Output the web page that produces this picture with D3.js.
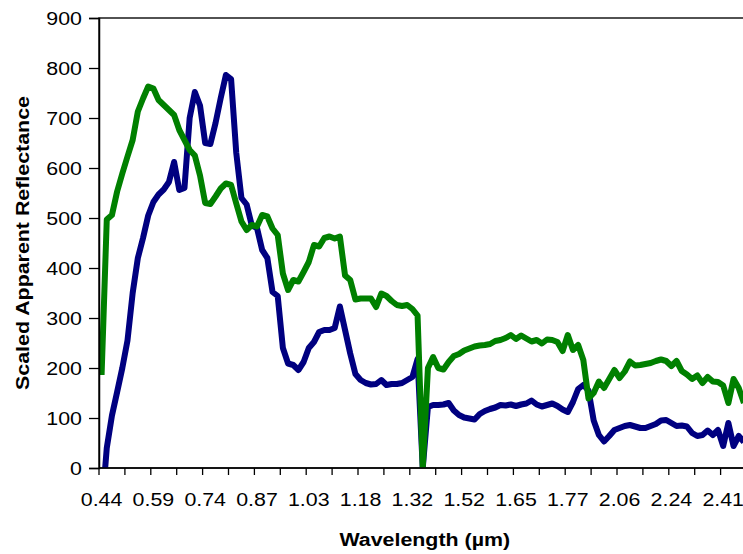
<!DOCTYPE html>
<html>
<head>
<meta charset="utf-8">
<script src="https://cdn.jsdelivr.net/npm/d3@7"></script>
<style>
  html, body { margin: 0; padding: 0; background: #fff; }
  svg { display: block; }
  text { font-family: "Liberation Sans", Arial, sans-serif; fill: #000; }
</style>
</head>
<body>
<svg id="chart" width="743" height="554"></svg>
<script>
// ---- Data ----
const categories = [
  "0.44","0.45","0.47","0.48","0.50","0.51","0.53","0.54","0.56","0.57",
  "0.59","0.60","0.62","0.63","0.65","0.66","0.68","0.69","0.71","0.72",
  "0.74","0.75","0.76","0.78","0.79","0.80","0.82","0.83","0.84","0.86",
  "0.87","0.89","0.90","0.92","0.93","0.95","0.97","0.98","1.00","1.01",
  "1.03","1.04","1.06","1.07","1.09","1.10","1.12","1.13","1.15","1.16",
  "1.18","1.19","1.21","1.22","1.24","1.25","1.26","1.28","1.29","1.31",
  "1.32","1.34","1.36","1.38","1.40","1.42","1.44","1.46","1.48","1.50",
  "1.52","1.53","1.55","1.56","1.57","1.59","1.60","1.61","1.63","1.64",
  "1.65","1.66","1.68","1.69","1.70","1.71","1.72","1.74","1.75","1.76",
  "1.77","1.80","1.83","1.86","1.89","1.92","1.94","1.97","2.00","2.03",
  "2.06","2.08","2.10","2.11","2.13","2.15","2.17","2.19","2.20","2.22",
  "2.24","2.26","2.28","2.29","2.31","2.33","2.34","2.36","2.38","2.39",
  "2.41","2.43","2.44","2.46","2.48"
];

const blueValues = [
  -90, 40, 105, 152, 200, 255, 350, 420, 460, 505,
  532, 547, 557, 572, 612, 556, 560, 700, 752, 725,
  650, 648, 690, 740, 786, 778, 630, 540, 527, 485,
  480, 436, 420, 352, 344, 240, 209, 206, 196, 212,
  240, 252, 272, 276, 276, 280, 323, 276, 229, 188,
  176, 170, 167, 168, 176, 166, 168, 168, 170, 176,
  182, 218, 0, 122, 126, 126, 127, 130, 115, 106,
  101, 99, 97, 108, 114, 118, 121, 126, 125, 127,
  124, 127, 129, 135, 127, 123, 126, 129, 124, 117,
  112, 132, 158, 166, 155, 95, 66, 53, 64, 76,
  80, 84, 86, 83, 80, 80, 84, 88, 95, 96,
  90, 84, 85, 83, 70, 64, 66, 75, 66, 76,
  44, 90, 44, 64, 52
];

const greenValues = [
  186, 497, 506, 553, 589, 623, 656, 713, 739, 763,
  759, 736, 726, 716, 706, 676, 656, 636, 625, 585,
  530, 528, 543, 559, 569, 566, 529, 493, 476, 486,
  483, 506, 503, 479, 466, 389, 356, 376, 373, 392,
  412, 446, 443, 460, 463, 459, 463, 385, 376, 337,
  339, 339, 339, 322, 349, 344, 334, 326, 324, 326,
  318, 305, 0, 200, 222, 200, 197, 212, 224, 228,
  235, 239, 243, 245, 246, 248, 254, 256, 260, 266,
  258, 265, 259, 253, 256, 249, 257, 256, 252, 234,
  266, 236, 246, 216, 139, 150, 173, 160, 178, 196,
  180, 193, 213, 205, 206, 208, 210, 214, 217, 214,
  204, 214, 194, 187, 178, 185, 170, 182, 173, 172,
  165, 130, 178, 160, 130
];

const xTickLabels = ["0.44","0.59","0.74","0.87","1.03","1.18","1.32","1.52","1.65","1.77","2.06","2.24","2.41"];
const yTicks = [0, 100, 200, 300, 400, 500, 600, 700, 800, 900];
const xTitle = "Wavelength (\u00b5m)";
const yTitle = "Scaled Apparent Reflectance";

// ---- Layout ----
const plot = { left: 99, top: 18, right: 746.5, bottom: 468 };
const stretch = 1.15;

const svg = d3.select("#chart");
svg.append("rect").attr("width", 743).attr("height", 554).attr("fill", "#fff");

const x = d3.scaleBand().domain(categories).range([plot.left, plot.right]).padding(0);
const y = d3.scaleLinear().domain([0, 900]).range([plot.bottom, plot.top]);
const cx = c => x(c) + x.bandwidth() / 2;

// clip
svg.append("defs").append("clipPath").attr("id", "plotclip")
  .append("rect")
  .attr("x", plot.left).attr("y", plot.top)
  .attr("width", plot.right - plot.left).attr("height", plot.bottom - plot.top);

// plot border (top edge visible)
svg.append("rect")
  .attr("x", plot.left).attr("y", plot.top)
  .attr("width", plot.right - plot.left).attr("height", plot.bottom - plot.top)
  .attr("fill", "none").attr("stroke", "#1a1a1a").attr("stroke-width", 1.5);

// series
const line = d3.line().x((d, i) => cx(categories[i])).y(d => y(d));
const gLines = svg.append("g").attr("clip-path", "url(#plotclip)");
gLines.append("path").datum(blueValues)
  .attr("d", line).attr("fill", "none").attr("stroke", "#000080")
  .attr("stroke-width", 6).attr("stroke-linejoin", "round").attr("stroke-linecap", "butt");
gLines.append("path").datum(greenValues)
  .attr("d", line).attr("fill", "none").attr("stroke", "#008000")
  .attr("stroke-width", 6).attr("stroke-linejoin", "round").attr("stroke-linecap", "butt");

// y axis
const yAxis = svg.append("g").attr("transform", `translate(${plot.left},0)`)
  .call(d3.axisLeft(y).tickValues(yTicks).tickSize(10).tickFormat(""));
yAxis.select(".domain").attr("stroke", "#000").attr("stroke-width", 1.5);
yAxis.selectAll(".tick line").attr("stroke", "#000").attr("stroke-width", 1.3);

svg.append("g").selectAll("text").data(yTicks).join("text")
  .attr("transform", d => `translate(82,${y(d) + 6.5}) scale(${stretch},1)`)
  .attr("text-anchor", "end")
  .attr("font-size", 18.6)
  .text(d => d);

// x axis: boundary ticks every 5 categories
const tickCats = categories.filter((c, i) => i % 5 === 0);
const xAxisG = svg.append("g");
xAxisG.append("line")
  .attr("x1", plot.left).attr("x2", plot.right)
  .attr("y1", plot.bottom).attr("y2", plot.bottom)
  .attr("stroke", "#000").attr("stroke-width", 1.5);
xAxisG.selectAll("line.tk").data(tickCats.concat(["__end"])).join("line")
  .attr("class", "tk")
  .attr("x1", d => d === "__end" ? plot.right : x(d))
  .attr("x2", d => d === "__end" ? plot.right : x(d))
  .attr("y1", plot.bottom).attr("y2", plot.bottom + 7)
  .attr("stroke", "#000").attr("stroke-width", 1.3);

xAxisG.selectAll("text").data(xTickLabels).join("text")
  .attr("transform", d => `translate(${cx(d)},506) scale(${stretch},1)`)
  .attr("text-anchor", "middle")
  .attr("font-size", 18.6)
  .text(d => d);

// titles
svg.append("text")
  .attr("transform", `translate(${(plot.left + plot.right) / 2 + 2},546) scale(${stretch},1)`)
  .attr("text-anchor", "middle")
  .attr("font-size", 18.6).attr("font-weight", "bold")
  .text(xTitle);

svg.append("text")
  .attr("transform", `translate(28.5,${(plot.top + plot.bottom) / 2}) rotate(-90) scale(${stretch},1)`)
  .attr("text-anchor", "middle")
  .attr("font-size", 18.6).attr("font-weight", "bold")
  .text(yTitle);
</script>
</body>
</html>
